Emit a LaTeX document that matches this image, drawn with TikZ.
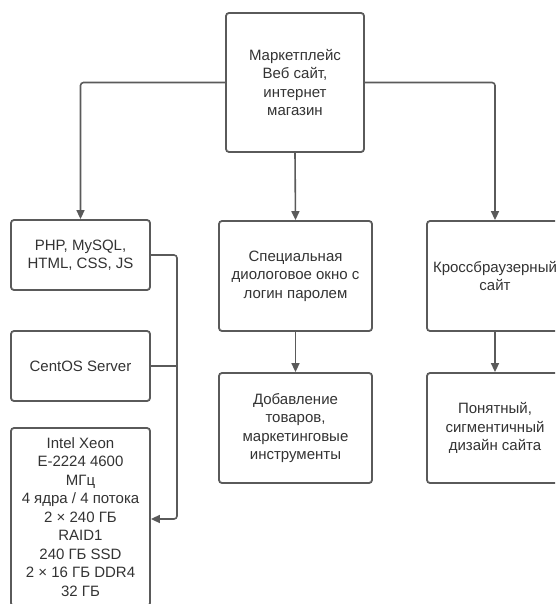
\documentclass[tikz,border=0pt]{standalone}
\usepackage{fontspec}
\setmainfont{Liberation Sans}
\usetikzlibrary{arrows.meta,calc}
\definecolor{linegray}{HTML}{5A5A5A}
\definecolor{textgray}{HTML}{333333}
\tikzset{
  box/.style={draw=linegray, line width=1.8pt, rounded corners=3pt, fill=white,
    align=center, inner sep=0pt, text=textgray,
    font=\fontsize{15}{18.5}\selectfont},
  conn/.style={draw=linegray, line width=1.6pt, rounded corners=3pt},
  arr/.style={conn, -{Triangle[length=9pt,width=8pt]}}
}
\begin{document}
\begin{tikzpicture}[x=1pt,y=-1pt]
\useasboundingbox (0,0) rectangle (555,604);
\clip (0,0) rectangle (555,604);
% top
\node[box, minimum width=138pt, minimum height=139pt] (top) at (295,82.5)
  {Маркетплейс\\Веб сайт,\\интернет\\магазин};
% left column
\node[box, minimum width=139pt, minimum height=70pt] (php) at (80.5,255)
  {PHP, MySQL,\\HTML, CSS, JS};
\node[box, minimum width=139pt, minimum height=70pt] (centos) at (80.5,366)
  {CentOS Server};
\node[box, minimum width=139pt, minimum height=178pt] (xeon) at (80.5,517)
  {Intel Xeon\\E-2224 4600\\МГц\\4 ядра / 4 потока\\2 × 240 ГБ\\RAID1\\240 ГБ SSD\\2 × 16 ГБ DDR4\\32 ГБ};
% middle column
\node[box, minimum width=153pt, minimum height=110pt] (spec) at (295.5,276)
  {Специальная\\диологовое окно с\\логин паролем};
\node[box, minimum width=153pt, minimum height=110pt] (add) at (295.5,428)
  {Добавление\\товаров,\\маркетинговые\\инструменты};
% right column
\node[box, minimum width=136pt, minimum height=110pt] (cross) at (495,276)
  {Кроссбраузерный\\сайт};
\node[box, minimum width=136pt, minimum height=110pt] (clear) at (495,428)
  {Понятный,\\сигментичный\\дизайн сайта};
% connectors
\draw[arr] (top.west) -| (php.north);
\draw[arr] (top.east) -| (cross.north);
\draw[arr] (top.south) -- (spec.north);
\draw[arr] (spec.south) -- (add.north);
\draw[arr] (cross.south) -- (clear.north);
\coordinate (bus) at (177,0);
\draw[arr] (php.east) -- (php.east -| bus) |- ([yshift=-2pt]xeon.east);
\draw[conn] (centos.east) -- (centos.east -| bus);
\end{tikzpicture}
\end{document}
